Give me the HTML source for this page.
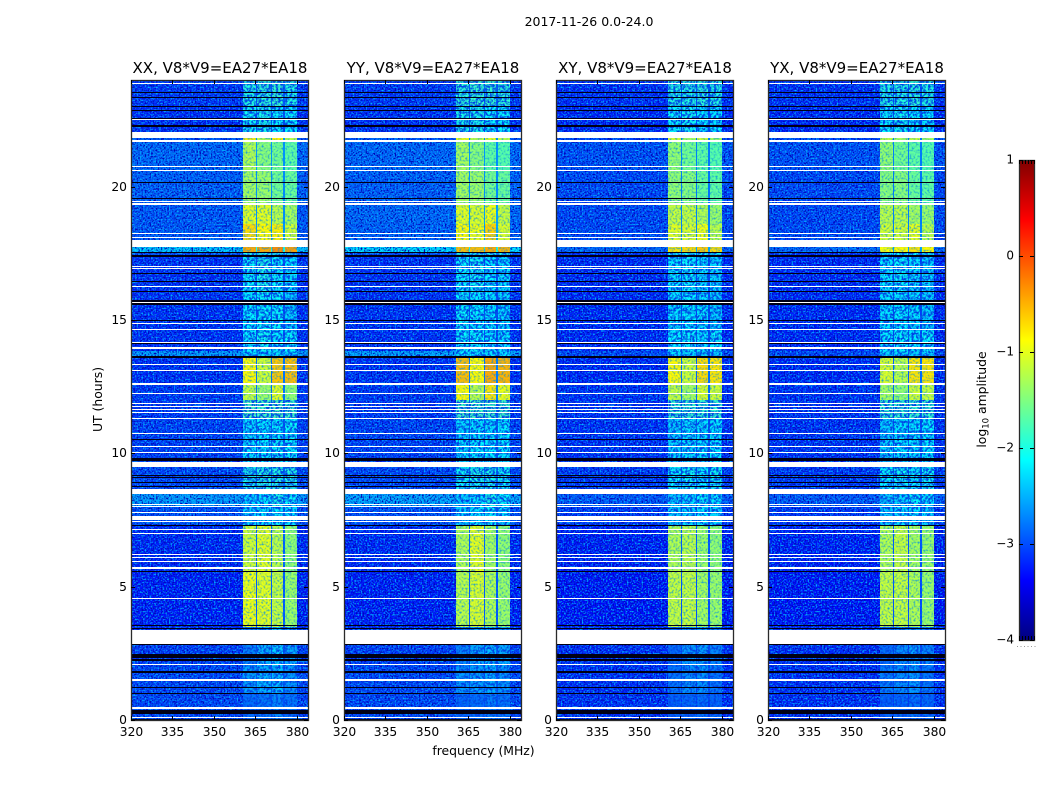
<!DOCTYPE html>
<html>
<head>
<meta charset="utf-8">
<title>2017-11-26 0.0-24.0</title>
<style>
html,body{margin:0;padding:0;background:#fff;}
svg{display:block;font-family:"DejaVu Sans","Liberation Sans",sans-serif;fill:#000;}
</style>
</head>
<body>
<svg id="figure" xmlns="http://www.w3.org/2000/svg" width="1050" height="800" viewBox="0 0 1050 800">
<defs>
<filter id="speckDark" x="0" y="0" width="100%" height="100%" color-interpolation-filters="sRGB">
<feTurbulence type="fractalNoise" baseFrequency="0.62" numOctaves="1" seed="4"/>
<feColorMatrix type="matrix" values="0 0 0 0 0  0 0 0 0 0.02  0 0 0 0 0.72  4.5 0 0 0 -2.0"/>
</filter>
<filter id="speckLight" x="0" y="0" width="100%" height="100%" color-interpolation-filters="sRGB">
<feTurbulence type="fractalNoise" baseFrequency="0.62" numOctaves="1" seed="11"/>
<feColorMatrix type="matrix" values="0 0 0 0 0  0 0 0 0 0.7  0 0 0 0 1  3.4 0 0 0 -1.6"/>
</filter>
<filter id="speckBand" x="0" y="0" width="100%" height="100%" color-interpolation-filters="sRGB">
<feTurbulence type="fractalNoise" baseFrequency="0.5" numOctaves="1" seed="7"/>
<feColorMatrix type="matrix" values="0 0 0 0 0  0 0 0 0 0.55  0 0 0 0 0.9  2.2 0 0 0 -0.98"/>
</filter>
<filter id="speckWeak" x="0" y="0" width="100%" height="100%" color-interpolation-filters="sRGB">
<feTurbulence type="fractalNoise" baseFrequency="0.42" numOctaves="2" seed="9"/>
<feColorMatrix type="matrix" values="0 0 0 0 0  0 0 0 0 0.25  0 0 0 0 0.9  5 0 0 0 -2.1"/>
</filter>
<linearGradient id="jetGradient" x1="0" y1="1" x2="0" y2="0"></linearGradient>
</defs>
<rect x="0" y="0" width="1050" height="800" fill="#fff"/>
<text x="589" y="26" font-size="12.5" text-anchor="middle">2017-11-26 0.0-24.0</text>
<text x="483.5" y="755" font-size="12.4" text-anchor="middle">frequency (MHz)</text>
<text transform="translate(102 399.5) rotate(-90)" font-size="12.4" text-anchor="middle">UT (hours)</text>
<g id="panels"></g>
<g id="colorbar"></g>
<text transform="translate(986 399.5) rotate(-90)" font-size="12.4" text-anchor="middle">log<tspan font-size="8.5" dy="2.5">10</tspan><tspan dy="-2.5"> amplitude</tspan></text>
</svg>
<script>
// ---- chart data ----
const panelTitles = ["XX, V8*V9=EA27*EA18", "YY, V8*V9=EA27*EA18", "XY, V8*V9=EA27*EA18", "YX, V8*V9=EA27*EA18"];
const freqTicks = [320, 335, 350, 365, 380];
const utTicks = [0, 5, 10, 15, 20];
const colorbarTicks = [1, 0, -1, -2, -3, -4];
// frequency edges of the four science sub-bands (MHz)
const bandEdges = [[360.5, 365.2], [365.7, 370.5], [371, 375], [375.6, 380]];
// UT boundaries of the time segments (hours)
const segmentEdges = [0, 1, 2, 2.85, 3.5, 5.6, 7.3, 8, 8.5, 9.5, 10.5, 11.3, 12, 12.6, 13.58, 13.85, 14.6, 16, 17.4, 17.56, 17.74, 18.6, 19.4, 20.6, 21.7, 21.9, 23, 24];
// log10 amplitude of off-band background per segment
const backgroundXX = [-3.05,-3.05,-3.1,-3.2,-3.3,-3.25,-3.0,-2.55,-3.05,-3.1,-3.1,-3.15,-3.15,-3.2,-2.55,-3.2,-3.2,-3.2,-3.0,-2.3,-2.95,-2.95,-2.9,-2.85,-2.95,-3.2,-3.15];
const backgroundYY = [-3.05,-3.05,-3.1,-3.2,-3.3,-3.25,-3.0,-2.5,-3.05,-3.1,-3.1,-3.15,-3.15,-3.2,-2.5,-3.2,-3.2,-3.2,-3.0,-2.2,-2.9,-2.85,-2.9,-2.85,-2.95,-3.2,-3.15];
const backgroundXY = [-3.2,-3.2,-3.2,-3.2,-3.35,-3.3,-3.15,-2.95,-3.15,-3.2,-3.2,-3.2,-3.2,-3.25,-3.05,-3.25,-3.25,-3.25,-3.2,-2.85,-3.05,-3.05,-3.05,-3.0,-3.05,-3.25,-3.2];
const backgroundYX = [-3.2,-3.2,-3.2,-3.2,-3.35,-3.3,-3.15,-2.95,-3.15,-3.2,-3.2,-3.2,-3.2,-3.25,-3.05,-3.25,-3.25,-3.25,-3.2,-2.85,-3.05,-3.05,-3.05,-3.0,-3.05,-3.25,-3.2];
// log10 amplitude of each sub-band per segment
const bandsXX = [[-2.85,-2.8,-2.7,-2.8],[-2.55,-2.45,-2.4,-2.6],[-2.7,-2.45,-2.3,-2.5],[-2.7,-2.5,-2.3,-2.5],[-0.95,-1.0,-1.15,-1.35],[-1.1,-1.0,-1.2,-1.4],[-2.3,-2.2,-2.1,-2.2],[-2.3,-2.2,-2.0,-2.1],[-2.0,-1.95,-1.95,-1.95],[-2.2,-2.15,-2.1,-2.1],[-2.25,-2.15,-2.15,-2.1],[-1.75,-1.8,-1.75,-1.8],[-1.15,-1.35,-1.0,-1.4],[-0.85,-1.1,-0.6,-0.55],[-2.2,-2.2,-2.2,-2.25],[-2.15,-2.05,-2.15,-2.1],[-2.15,-2.1,-2.1,-2.3],[-2.1,-2.0,-2.1,-2.2],[-2.0,-2.0,-2.0,-2.0],[-0.45,-0.45,-0.3,-0.4],[-0.7,-0.85,-0.8,-1.1],[-1.0,-1.0,-1.2,-1.3],[-1.3,-1.35,-1.55,-1.6],[-1.25,-1.45,-1.55,-1.65],[-0.8,-1.2,-0.8,-1.2],[-2.05,-2.0,-2.1,-2.1],[-1.95,-1.9,-1.85,-1.95]];
const bandsYY = [[-2.9,-2.85,-2.75,-2.8],[-2.6,-2.55,-2.5,-2.6],[-2.7,-2.5,-2.4,-2.5],[-2.7,-2.5,-2.4,-2.5],[-1.2,-1.05,-1.25,-1.35],[-1.25,-1.0,-1.3,-1.4],[-2.3,-2.2,-2.1,-2.2],[-2.3,-2.2,-2.0,-2.1],[-2.05,-2.0,-2.0,-2.05],[-2.2,-2.15,-2.15,-2.15],[-2.25,-2.2,-2.2,-2.15],[-1.8,-1.8,-1.8,-1.8],[-0.85,-1.2,-0.75,-0.95],[-0.55,-0.85,-0.45,-0.5],[-2.15,-2.2,-2.2,-2.2],[-2.1,-2.1,-2.2,-2.2],[-2.1,-2.15,-2.15,-2.25],[-2.1,-2.05,-2.15,-2.2],[-2.0,-2.0,-2.0,-2.0],[-0.55,-0.55,-0.45,-0.5],[-0.85,-0.95,-0.65,-1.05],[-1.0,-1.05,-0.95,-1.15],[-1.3,-1.35,-1.55,-1.6],[-1.3,-1.45,-1.65,-1.7],[-0.95,-1.2,-1.0,-1.2],[-2.0,-2.0,-2.1,-2.1],[-1.9,-1.85,-1.85,-1.9]];
const bandsXY = [[-2.95,-2.9,-2.85,-2.9],[-2.8,-2.65,-2.6,-2.8],[-2.85,-2.6,-2.55,-2.7],[-2.85,-2.6,-2.55,-2.7],[-1.15,-1.15,-1.3,-1.35],[-1.25,-1.2,-1.35,-1.4],[-2.3,-2.25,-2.2,-2.25],[-2.3,-2.25,-2.1,-2.2],[-2.1,-2.05,-2.1,-2.05],[-2.25,-2.2,-2.2,-2.15],[-2.3,-2.2,-2.2,-2.15],[-1.85,-1.85,-1.85,-1.85],[-1.15,-1.3,-1.05,-1.1],[-0.85,-1.1,-0.7,-0.75],[-2.25,-2.25,-2.3,-2.3],[-2.15,-2.1,-2.2,-2.1],[-2.2,-2.15,-2.2,-2.3],[-2.15,-2.1,-2.2,-2.25],[-2.1,-2.1,-2.1,-2.1],[-0.75,-0.7,-0.6,-0.7],[-1.0,-1.05,-0.95,-1.2],[-1.15,-1.15,-1.25,-1.35],[-1.4,-1.45,-1.6,-1.65],[-1.4,-1.55,-1.65,-1.7],[-1.1,-1.3,-1.1,-1.3],[-2.1,-2.05,-2.15,-2.15],[-1.95,-1.95,-1.9,-1.95]];
const bandsYX = [[-2.95,-2.9,-2.85,-2.9],[-2.75,-2.65,-2.6,-2.8],[-2.85,-2.65,-2.55,-2.7],[-2.85,-2.65,-2.55,-2.7],[-1.15,-1.15,-1.25,-1.35],[-1.25,-1.15,-1.3,-1.35],[-2.3,-2.25,-2.2,-2.25],[-2.3,-2.25,-2.1,-2.2],[-2.1,-2.05,-2.1,-2.05],[-2.25,-2.2,-2.2,-2.15],[-2.3,-2.2,-2.2,-2.15],[-1.85,-1.85,-1.85,-1.85],[-1.3,-1.4,-1.1,-1.15],[-1.05,-1.2,-0.75,-0.75],[-2.25,-2.25,-2.3,-2.3],[-2.15,-2.1,-2.2,-2.1],[-2.2,-2.15,-2.2,-2.3],[-2.15,-2.1,-2.2,-2.25],[-2.1,-2.1,-2.1,-2.1],[-0.9,-0.85,-0.75,-0.85],[-1.1,-1.1,-1.0,-1.2],[-1.2,-1.2,-1.3,-1.35],[-1.45,-1.45,-1.6,-1.65],[-1.4,-1.55,-1.65,-1.7],[-1.15,-1.3,-1.15,-1.3],[-2.1,-2.05,-2.15,-2.15],[-1.95,-1.95,-1.9,-1.95]];
// flagged time ranges (hours): blanked (white) and zero-amplitude (black)
const blankedStart = [0.06,0.43,1.46,2.05,2.85,4.52,5.68,5.92,6.06,6.19,6.97,7.12,7.41,7.49,7.76,7.97,8.07,8.47,9.49,10.0,10.24,10.73,11.29,11.5,11.63,11.75,11.86,12.21,12.57,13.08,13.32,13.93,14.13,14.61,14.86,15.63,16.24,16.91,16.99,17.74,18.09,18.24,19.31,19.41,20.59,20.72,21.66,21.84,22.5,23.84];
const blankedEnd = [0.11,0.48,1.52,2.09,3.36,4.56,5.72,5.96,6.1,6.23,7.01,7.16,7.45,7.64,7.8,8.01,8.11,8.66,9.68,10.04,10.28,10.77,11.33,11.54,11.67,11.79,11.9,12.25,12.65,13.12,13.36,13.97,14.17,14.65,14.9,15.67,16.28,16.95,17.03,18.01,18.13,18.28,19.38,19.48,20.63,20.76,21.74,22.04,22.54,23.89];
const zeroStart = [0,0.23,0.99,1.21,1.78,2.23,2.31,2.82,3.41,3.51,5.55,7.29,8.72,8.87,9.06,9.16,9.72,9.79,10.5,13.56,14.09,14.96,15.57,15.67,16.05,16.42,16.74,17.37,17.5,19.53,20.12,22.22,22.28,22.54,22.83,23,23.31,23.5];
const zeroEnd = [0.03,0.39,1.03,1.25,1.82,2.27,2.49,2.85,3.46,3.58,5.59,7.33,8.76,8.91,9.1,9.2,9.78,9.83,10.54,13.64,14.13,15,15.63,15.74,16.09,16.46,16.78,17.45,17.56,19.57,20.16,22.26,22.32,22.57,22.87,23.04,23.35,23.54];

const panelBackgrounds = [backgroundXX, backgroundYY, backgroundXY, backgroundYX];
const panelBands = [bandsXX, bandsYY, bandsXY, bandsYX];

// ---- layout and scales ----
const NS = "http://www.w3.org/2000/svg";
const panelLeft = [131, 344, 556, 768];
const panelWidth = 177, plotTop = 80, plotBottom = 720;
const freqMin = 320, freqMax = 384, utMax = 24, vMin = -4, vMax = 1;
const weakBandLimit = -1.7;
const xScale = (p, f) => panelLeft[p] + (f - freqMin) / (freqMax - freqMin) * panelWidth;
const yScale = u => plotBottom - u / utMax * (plotBottom - plotTop);
const cbTop = 160, cbBottom = 640, cbLeft = 1019, cbRight = 1034;
const cbScale = v => cbBottom - (v - vMin) / (vMax - vMin) * (cbBottom - cbTop);

function jetPart(t, c) { return Math.max(0, Math.min(1, 1.5 - Math.abs(4 * t - c))); }
function jet(v) {
  const t = Math.max(0, Math.min(1, (v - vMin) / (vMax - vMin)));
  const r = Math.round(255 * jetPart(t, 3));
  const g = Math.round(255 * jetPart(t, 2));
  const b = Math.round(255 * jetPart(t, 1));
  return "rgb(" + r + "," + g + "," + b + ")";
}
function mk(tag, attrs, parent) {
  const el = document.createElementNS(NS, tag);
  for (const k in attrs) el.setAttribute(k, attrs[k]);
  parent.appendChild(el);
  return el;
}
function cellRect(parent, x0, x1, y0, y1, fill) {
  const xa = Math.round(x0), xb = Math.round(x1), ya = Math.round(y0), yb = Math.round(y1);
  return mk("rect", { x: xa, y: ya, width: Math.max(1, xb - xa), height: Math.max(1, yb - ya), fill: fill, "shape-rendering": "crispEdges" }, parent);
}

const panelsRoot = document.getElementById("panels");
panelTitles.forEach((title, p) => {
  const g = mk("g", {}, panelsRoot);
  
  

  const bg = panelBackgrounds[p], bands = panelBands[p];
  const cells = mk("g", {}, g);
  
  
  for (let s = 0; s < segmentEdges.length - 1; s++) {
    const bgCell = cellRect(cells, xScale(p, freqMin), xScale(p, freqMax), yScale(segmentEdges[s + 1]), yScale(segmentEdges[s]), jet(bg[s]));
    
    
  }

  // receiver-noise speckle texture (visual grain only, carries no data)
  const noiseDark = mk("rect", { x: panelLeft[p], y: plotTop, width: panelWidth, height: plotBottom - plotTop, filter: "url(#speckDark)" }, g);
  
  
  const noiseLight = mk("rect", { x: panelLeft[p], y: plotTop, width: panelWidth, height: plotBottom - plotTop, filter: "url(#speckLight)" }, g);
  
  

  const bandCells = mk("g", {}, g);
  
  
  const bandLeft = xScale(p, bandEdges[0][0]);
  const bandRight = xScale(p, bandEdges[3][1]);
  for (let s = 0; s < segmentEdges.length - 1; s++) {
    const yHi = yScale(segmentEdges[s + 1]), yLo = yScale(segmentEdges[s]);
    bandEdges.forEach((edge, b) => {
      const gapEnd = b < bandEdges.length - 1 ? bandEdges[b + 1][0] : edge[1];
      const gapValue = bg[s] * 0.85 + bands[s][b] * 0.15;
      if (gapEnd > edge[1]) {
        const gap = cellRect(bandCells, xScale(p, edge[1]), xScale(p, gapEnd), yHi, yLo, jet(gapValue));
        
        
      }
      const cell = cellRect(bandCells, xScale(p, edge[0]), xScale(p, edge[1]), yHi, yLo, jet(bands[s][b]));
      
      
    });
    if (Math.max(...bands[s]) < weakBandLimit) {
      const weakNoise = mk("rect", { x: bandLeft, y: yHi, width: bandRight - bandLeft, height: yLo - yHi, filter: "url(#speckWeak)" }, bandCells);
      
      
    }
  }
  const bandNoise = mk("rect", { x: bandLeft, y: plotTop, width: bandRight - bandLeft, height: plotBottom - plotTop, filter: "url(#speckBand)" }, g);
  
  

  zeroStart.forEach((u, i) => {
    const r = cellRect(g, xScale(p, freqMin), xScale(p, freqMax), yScale(zeroEnd[i]), yScale(u), "#000014");
    
    
  });
  blankedStart.forEach((u, i) => {
    const r = cellRect(g, xScale(p, freqMin), xScale(p, freqMax), yScale(blankedEnd[i]), yScale(u), "#fff");
    
    
  });

  const frame = mk("rect", { x: panelLeft[p] + 0.5, y: plotTop + 0.5, width: panelWidth, height: plotBottom - plotTop, fill: "none", stroke: "#2a2a2a", "stroke-width": 1.3 }, g);
  
  

  const titleEl = mk("text", { x: panelLeft[p] + panelWidth / 2 + 0.5, y: 73, "font-size": 15, "text-anchor": "middle" }, g);
  titleEl.textContent = title;
  
  

  freqTicks.forEach(f => {
    const x = Math.round(xScale(p, f)) + 0.5;
    const t1 = mk("line", { x1: x, x2: x, y1: plotBottom, y2: plotBottom - 4, stroke: "#000" }, g);
    
    
    const t2 = mk("line", { x1: x, x2: x, y1: plotTop, y2: plotTop + 4, stroke: "#000" }, g);
    
    
    const lab = mk("text", { x: x, y: 736, "font-size": 12.3, "text-anchor": "middle" }, g);
    lab.textContent = f;
    
    
  });
  utTicks.forEach(u => {
    const y = Math.round(yScale(u)) + 0.5;
    const t1 = mk("line", { x1: panelLeft[p], x2: panelLeft[p] + 4, y1: y, y2: y, stroke: "#000" }, g);
    
    
    const t2 = mk("line", { x1: panelLeft[p] + panelWidth, x2: panelLeft[p] + panelWidth - 4, y1: y, y2: y, stroke: "#000" }, g);
    
    
    const lab = mk("text", { x: panelLeft[p] - 4, y: y + 3.5, "font-size": 12.3, "text-anchor": "end" }, g);
    lab.textContent = u;
    
    
  });
});

// ---- colorbar ----
const gradient = document.getElementById("jetGradient");
for (let i = 0; i <= 40; i++) {
  const frac = i / 40;
  mk("stop", { offset: frac, "stop-color": jet(vMin + frac * (vMax - vMin)) }, gradient);
}
const cbRoot = document.getElementById("colorbar");
const cbRect = mk("rect", { x: cbLeft, y: cbTop, width: cbRight - cbLeft, height: cbBottom - cbTop, fill: "url(#jetGradient)" }, cbRoot);


const cbFrame = mk("rect", { x: cbLeft + 0.5, y: cbTop + 0.5, width: cbRight - cbLeft, height: cbBottom - cbTop, fill: "none", stroke: "#2a2a2a", "stroke-width": 1.3 }, cbRoot);


colorbarTicks.forEach(v => {
  const y = Math.round(cbScale(v)) + 0.5;
  const a = mk("line", { x1: cbLeft, x2: cbLeft + 4, y1: y, y2: y, stroke: "#000" }, cbRoot);
  
  
  const b = mk("line", { x1: cbRight, x2: cbRight - 4, y1: y, y2: y, stroke: "#000" }, cbRoot);
  
  
  const lab = mk("text", { x: 1014, y: y + 3, "font-size": 12, "text-anchor": "end" }, cbRoot);
  lab.textContent = v < 0 ? "\u2212" + Math.abs(v) : String(v);
  
  
});
for (let i = 0; i <= 5; i++) {
  const x = cbLeft + i * 3 + 0.5;
  const top = mk("line", { x1: x, x2: x, y1: cbTop, y2: cbTop + 4, stroke: "#000" }, cbRoot);
  
  
  const bot = mk("line", { x1: x, x2: x, y1: cbBottom, y2: cbBottom - 4, stroke: "#000" }, cbRoot);
  
  
  const dot = mk("rect", { x: cbLeft - 2 + i * 3.5, y: 646, width: 1, height: 1, fill: "#999" }, cbRoot);
  
  
}
</script>
</body>
</html>
